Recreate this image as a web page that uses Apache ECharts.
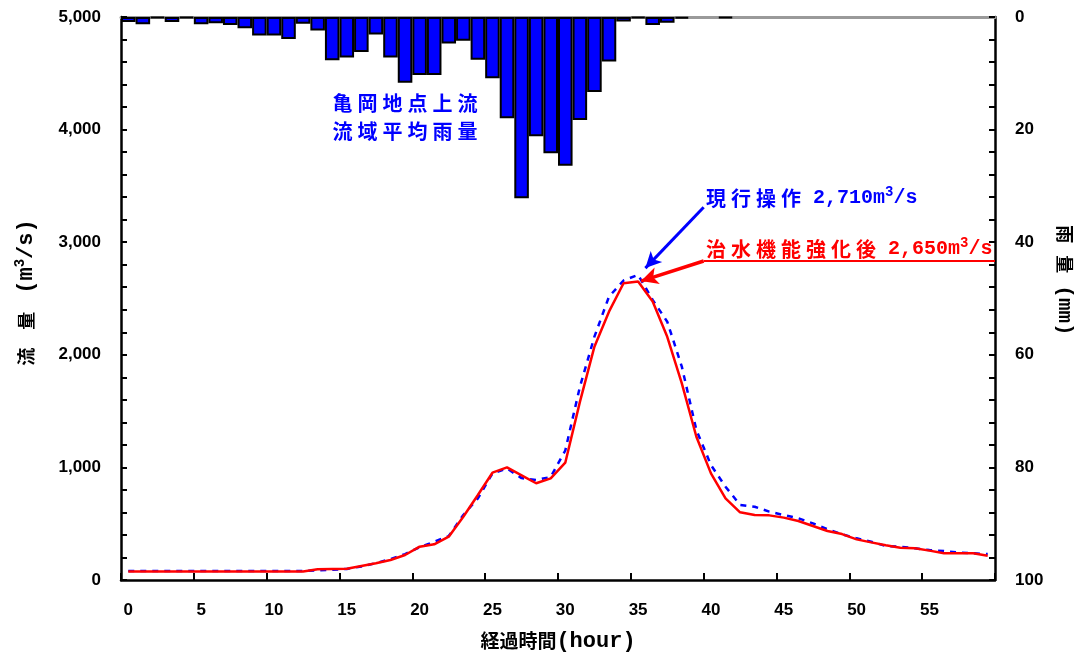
<!DOCTYPE html>
<html><head><meta charset="utf-8">
<script src="https://cdn.jsdelivr.net/npm/echarts@6/dist/echarts.min.js"></script>
<style>html,body{margin:0;padding:0;background:#fff}#c{width:1087px;height:659px}</style>
</head><body><div id="c"></div><script>
// ---- data ----
const hours = ['0','1','2','3','4','5','6','7','8','9','10','11','12','13','14','15','16','17','18','19',
  '20','21','22','23','24','25','26','27','28','29','30','31','32','33','34','35','36','37','38','39',
  '40','41','42','43','44','45','46','47','48','49','50','51','52','53','54','55','56','57','58','59'];
const rainfall = [0.9,1.3,0.2,0.9,0.2,1.3,1.1,1.4,2.0,3.3, 3.3,3.9,1.2,2.4,7.7,7.2,6.2,3.1,7.2,11.7,
  10.3,10.3,4.7,4.2,7.6,10.9,18.0,32.2,21.2,24.2, 26.4,18.3,13.3,7.9,0.8,0.2,1.4,1.0,0.3,0,
  0,0.2,0,0,0,0,0,0,0,0, 0,0,0,0,0,0,0,0,0,0];
const flowCurrent = [80,80,80,80,80,80,80,80,80,80, 80,80,80,85,90,98,120,150,185,230,
  290,340,390,577,725,947,990,905,888,915, 1150,1714,2161,2516,2660,2710,2487,2294,1895,1332,
  1021,829,666,651,607,577,548,503,450,406, 370,340,302,296,281,266,257,243,237,231];
const flowEnhanced = [75,75,75,75,75,75,75,75,75,75, 75,75,75,95,98,100,124,148,178,222,
  296,317,385,562,755,953,1000,930,859,903, 1042,1580,2072,2383,2635,2650,2473,2160,1746,1272,
  947,725,601,577,574,554,524,480,435,408, 361,334,308,287,281,261,237,237,237,216];
const flowAxis = {min: 0, max: 5000, step: 1000};
const rainAxis = {min: 0, max: 100, step: 20};
// annotation anchors (hour, flow)
const arrowCurrent = [[40, 3310], [36.0, 2770]];
const arrowEnhanced = [[40, 2833], [35.7, 2655]];
const underlineEnhanced = [[40, 2833], [60, 2833]];

const BLUE = '#0000FF', RED = '#FF0000';
const NUM = '"Liberation Sans", Arial, sans-serif';
const CJK = '"Noto Sans CJK JP", sans-serif';
const MONO = '"Liberation Mono", "DejaVu Sans Mono", monospace';
const sp = s => s.split('').join('\u2005');

const chart = echarts.init(document.getElementById('c'));
const tickStyle = {color: '#000', width: 2};
chart.setOption({
  animation: false,
  backgroundColor: '#fff',
  grid: {left: 121, right: 92, top: 17, bottom: 79, containLabel: false},
  xAxis: [
    {type: 'category', data: hours, position: 'bottom', boundaryGap: true,
     axisLine: {show: true, onZero: false, lineStyle: {color: '#000', width: 2.5}},
     axisTick: {show: true, inside: true, interval: 4, length: 7, lineStyle: tickStyle},
     axisLabel: {interval: 4, margin: 22, color: '#000', fontFamily: NUM, fontWeight: 'bold', fontSize: 17},
     splitLine: {show: false},
     name: '{c|経過時間}{m|(hour)}', nameLocation: 'middle', nameGap: 50,
     nameTextStyle: {rich: {
       c: {fontFamily: CJK, fontWeight: 'bold', fontSize: 19, color: '#000'},
       m: {fontFamily: MONO, fontWeight: 'bold', fontSize: 22, color: '#000'}}}},
    {type: 'category', data: hours, position: 'top', boundaryGap: true,
     axisLine: {show: true, onZero: false, lineStyle: {color: '#9a9a9a', width: 3}},
     axisTick: {show: false}, axisLabel: {show: false}, splitLine: {show: false}},
    {type: 'value', min: 0, max: 60, show: false}
  ],
  yAxis: [
    {type: 'value', min: flowAxis.min, max: flowAxis.max, interval: flowAxis.step, position: 'left',
     axisLine: {show: true, onZero: false, lineStyle: {color: '#000', width: 2.5}},
     axisTick: {show: true, inside: true, length: 6, lineStyle: tickStyle},
     minorTick: {show: true, splitNumber: 5, length: 6, lineStyle: tickStyle},
     splitLine: {show: false},
     axisLabel: {margin: 20, color: '#000', fontFamily: NUM, fontWeight: 'bold', fontSize: 17,
       formatter: v => v.toLocaleString('en-US')},
     name: '{c|流}\u3000\u2002{c|量}\u3000\u2002{m|(m}{s|3}{m|/s)}', nameLocation: 'middle', nameGap: 82,
     nameTextStyle: {padding: [0, 0, 0, 12], rich: {
       c: {fontFamily: CJK, fontWeight: 'bold', fontSize: 18, color: '#000'},
       m: {fontFamily: MONO, fontWeight: 'bold', fontSize: 22, color: '#000'},
       s: {fontFamily: MONO, fontWeight: 'bold', fontSize: 14, color: '#000', padding: [0, 0, 12, 0]}}}},
    {type: 'value', min: rainAxis.min, max: rainAxis.max, interval: rainAxis.step, inverse: true, position: 'right',
     axisLine: {show: true, onZero: false, lineStyle: {color: '#000', width: 2.5}},
     axisTick: {show: true, inside: true, length: 6, lineStyle: tickStyle},
     minorTick: {show: true, splitNumber: 5, length: 6, lineStyle: tickStyle},
     splitLine: {show: false},
     axisLabel: {margin: 20, color: '#000', fontFamily: NUM, fontWeight: 'bold', fontSize: 17},
     name: '{c|雨}\u3000{c|量}\u3000{m|(mm)}', nameLocation: 'middle', nameGap: 58, nameRotate: -90,
     nameTextStyle: {padding: [0, 36, 0, 0], rich: {
       c: {fontFamily: CJK, fontWeight: 'bold', fontSize: 18, color: '#000'},
       m: {fontFamily: MONO, fontWeight: 'bold', fontSize: 21, color: '#000'}}}}
  ],
  series: [
    {name: '流域平均雨量', type: 'bar', xAxisIndex: 0, yAxisIndex: 1,
     data: rainfall.map(v => v === 0 ? '-' : v),
     barWidth: '100%', barCategoryGap: 0,
     itemStyle: {color: BLUE, borderColor: '#000', borderWidth: 2}, z: 3},
    {name: '現行操作', type: 'line', xAxisIndex: 0, yAxisIndex: 0, data: flowCurrent,
     symbol: 'none', lineStyle: {color: BLUE, width: 2.5, type: [6, 6]}, z: 4},
    {name: '治水機能強化後', type: 'line', xAxisIndex: 0, yAxisIndex: 0, data: flowEnhanced,
     symbol: 'none', lineStyle: {color: RED, width: 2.5}, z: 5},
    {name: 'annotations', type: 'line', xAxisIndex: 2, yAxisIndex: 0, data: [], z: 6,
     markLine: {silent: true, animation: false, label: {show: false},
       data: [
         [{coord: arrowCurrent[0], symbol: 'none', lineStyle: {color: BLUE, width: 3, type: 'solid'}},
          {coord: arrowCurrent[1], symbol: 'arrow', symbolSize: [12, 16]}],
         [{coord: arrowEnhanced[0], symbol: 'none', lineStyle: {color: RED, width: 3.5, type: 'solid'}},
          {coord: arrowEnhanced[1], symbol: 'arrow', symbolSize: [13, 17]}],
         [{coord: underlineEnhanced[0], symbol: 'none', lineStyle: {color: RED, width: 2, type: 'solid'}},
          {coord: underlineEnhanced[1], symbol: 'none'}]
       ]}}
  ],
  graphic: [
    {type: 'text', x: 405, y: 117, silent: true, style: {
      text: sp('亀岡地点上流') + '\n' + sp('流域平均雨量'), align: 'center', verticalAlign: 'middle',
      fontFamily: CJK, fontWeight: 'bold', fontSize: 20, lineHeight: 28, fill: BLUE}},
    {type: 'text', x: 706, y: 198, silent: true, style: {
      text: '{c|' + sp('現行操作') + '}{n| 2,710m}{s|3}{n|/s}', align: 'left', verticalAlign: 'middle',
      rich: {
        c: {fontFamily: CJK, fontWeight: 'bold', fontSize: 20, fill: BLUE},
        n: {fontFamily: MONO, fontWeight: 'bold', fontSize: 20, fill: BLUE},
        s: {fontFamily: MONO, fontWeight: 'bold', fontSize: 14, fill: BLUE, padding: [0, 0, 12, 0]}}}},
    {type: 'text', x: 706, y: 249, silent: true, style: {
      text: '{c|' + sp('治水機能強化後') + '}{n| 2,650m}{s|3}{n|/s}', align: 'left', verticalAlign: 'middle',
      rich: {
        c: {fontFamily: CJK, fontWeight: 'bold', fontSize: 20, fill: RED},
        n: {fontFamily: MONO, fontWeight: 'bold', fontSize: 20, fill: RED},
        s: {fontFamily: MONO, fontWeight: 'bold', fontSize: 14, fill: RED, padding: [0, 0, 12, 0]}}}}
  ]
});
</script></body></html>
